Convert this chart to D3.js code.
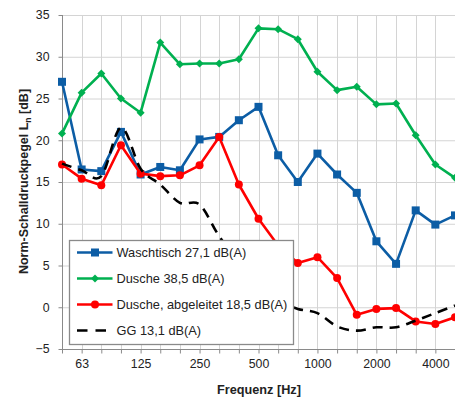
<!DOCTYPE html>
<html><head><meta charset="utf-8">
<script src="https://cdn.jsdelivr.net/npm/d3@7"></script>
<style>body{margin:0;background:#fff}svg{display:block}</style>
</head><body>
<script>
const categories = ["50","63","80","100","125","160","200","250","315","400","500","630","800","1000","1250","1600","2000","2500","3150","4000","5000"];
const xTickLabels = ["63","125","250","500","1000","2000","4000"];
const yTicks = [-5,0,5,10,15,20,25,30,35];
const waschtisch = [27.0,16.5,16.3,21.0,15.9,16.8,16.4,20.1,20.4,22.4,24.0,18.2,15.0,18.4,15.9,13.7,7.9,5.2,11.6,9.9,11.0];
const dusche = [20.8,25.7,28.0,25.0,23.3,31.7,29.1,29.2,29.2,29.7,33.4,33.3,32.1,28.2,26.0,26.4,24.3,24.4,20.6,17.1,15.5];
const duscheAbg = [17.1,15.4,14.6,19.4,16.0,15.7,15.8,17.0,20.4,14.7,10.6,7.4,5.3,6.0,3.5,-0.9,-0.2,-0.1,-1.7,-2.0,-1.2];
const gg = [17.2,16.4,15.7,21.5,16.6,14.7,12.5,12.3,8.5,5.5,2.8,0.8,-0.2,-0.7,-2.3,-2.8,-2.4,-2.4,-1.6,-0.7,0.2];
const seriesNames = ["Waschtisch 27,1 dB(A)","Dusche 38,5 dB(A)","Dusche, abgeleitet 18,5 dB(A)","GG 13,1 dB(A)"];

const W=455,H=401;
const svg=d3.select("body").append("svg").attr("width",W).attr("height",H);
const x=d3.scalePoint().domain(categories).range([62,455]);
const y=d3.scaleLinear().domain([-5,35]).range([349,15]);
const font="Liberation Sans, Arial, sans-serif";

// grid
svg.append("g").selectAll("line").data(yTicks).join("line")
  .attr("x1",62).attr("x2",W).attr("y1",d=>y(d)+0.5).attr("y2",d=>y(d)+0.5)
  .attr("stroke","#d4d4d4").attr("stroke-width",1);
svg.append("g").selectAll("line").data(categories.slice(1)).join("line")
  .attr("x1",d=>Math.round(x(d))+0.5).attr("x2",d=>Math.round(x(d))+0.5)
  .attr("y1",y(35)).attr("y2",y(-5))
  .attr("stroke","#d4d4d4").attr("stroke-width",1);

// axes
const xAxis=d3.axisBottom(x).tickSize(4).tickFormat(d=>xTickLabels.includes(d)?d:"");
const gx=svg.append("g").attr("transform",`translate(0,${y(-5)+0.5})`).call(xAxis);
gx.select(".domain").attr("stroke","#8a8a8a").attr("d",`M62,0H${W}`);
gx.selectAll(".tick line").attr("stroke","#8a8a8a");
gx.selectAll(".tick text").attr("font-family",font).attr("font-size","12.3px").attr("fill","#222").attr("dy","0.9em");

const yAxis=d3.axisLeft(y).tickValues(yTicks).tickSize(4).tickPadding(9);
const gy=svg.append("g").attr("transform","translate(62.5,0)").call(yAxis);
gy.select(".domain").attr("stroke","#8a8a8a").attr("d",`M0,${y(35)}V${y(-5)+0.5}`);
gy.selectAll(".tick line").attr("stroke","#8a8a8a");
gy.selectAll(".tick text").attr("font-family",font).attr("font-size","12.3px").attr("fill","#222");

// titles
svg.append("text").attr("x",259).attr("y",394).attr("text-anchor","middle")
  .attr("font-family",font).attr("font-weight","bold").attr("font-size","12.7px").attr("fill","#222")
  .text("Frequenz [Hz]");
const yt=svg.append("text").attr("transform","translate(28,181.5) rotate(-90)").attr("text-anchor","middle")
  .attr("font-family",font).attr("font-weight","bold").attr("font-size","12.5px").attr("fill","#222");
yt.append("tspan").text("Norm-Schalldruckpegel L");
yt.append("tspan").attr("font-size","8.5px").attr("dy","3").text("n");
yt.append("tspan").attr("dy","-3").text(" [dB]");

// series
const series=[
  {vals:waschtisch,color:"#0c5da5",marker:"square"},
  {vals:dusche,color:"#00b050",marker:"diamond"},
  {vals:duscheAbg,color:"#ff0000",marker:"circle"},
  {vals:gg,color:"#000000",marker:null,dash:"10,7",smooth:true}
];
function drawMarker(g,type,cx,cy,color){
  if(type==="square") g.append("rect").attr("x",cx-4).attr("y",cy-4).attr("width",8).attr("height",8).attr("fill",color);
  else if(type==="circle") g.append("circle").attr("cx",cx).attr("cy",cy).attr("r",4).attr("fill",color);
  else if(type==="diamond") g.append("path").attr("d",`M${cx},${cy-4}L${cx+4},${cy}L${cx},${cy+4}L${cx-4},${cy}Z`).attr("fill",color);
}
// draw GG first? Order in Excel: series order; GG drawn last
series.forEach(s=>{
  const line=d3.line().x((d,i)=>x(categories[i])).y(d=>y(d));
  if(s.smooth) line.curve(d3.curveCatmullRom.alpha(0));
  svg.append("path").datum(s.vals).attr("d",line).attr("fill","none")
    .attr("stroke",s.color).attr("stroke-width",2.6).attr("stroke-linejoin","round")
    .attr("stroke-dasharray",s.dash||null);
  if(s.marker){
    const g=svg.append("g");
    s.vals.forEach((v,i)=>drawMarker(g,s.marker,x(categories[i]),y(v),s.color));
  }
});

// legend
const lg=svg.append("g");
lg.append("rect").attr("x",69.5).attr("y",240.5).attr("width",224).attr("height",104)
  .attr("fill","#fff").attr("stroke","#8a8a8a").attr("stroke-width",1.3);
const rowsY=[252.5,278.5,304.5,330.5];
series.forEach((s,i)=>{
  const yy=rowsY[i];
  lg.append("line").attr("x1",77).attr("x2",112.5).attr("y1",yy).attr("y2",yy)
    .attr("stroke",s.color).attr("stroke-width",2.6).attr("stroke-dasharray",s.dash?"10.5,8":null);
  if(s.marker) drawMarker(lg,s.marker,95,yy,s.color);
  lg.append("text").attr("x",116.5).attr("y",yy).attr("dy","0.35em")
    .attr("font-family",font).attr("font-size","12.8px").attr("fill","#222").text(seriesNames[i]);
});
</script>
</body></html>
